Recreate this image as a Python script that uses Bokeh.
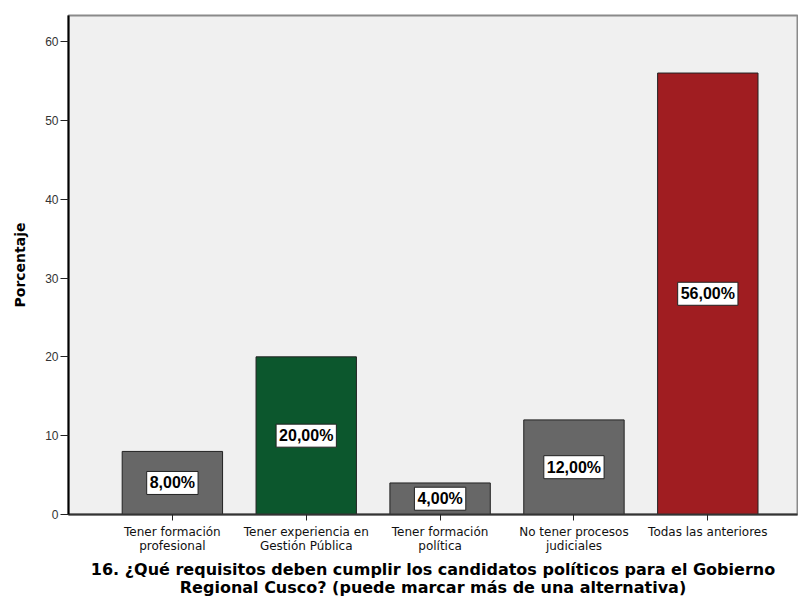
from bokeh.plotting import figure
from bokeh.models import ColumnDataSource, Range1d, FixedTicker
from bokeh.core.properties import value
from bokeh.embed import file_html
from bokeh.resources import INLINE

categories = ["Tener formación\nprofesional", "Tener experiencia en\nGestión Pública",
              "Tener formación\npolítica", "No tener procesos\njudiciales", "Todas las anteriores"]
values = [8.0, 20.0, 4.0, 12.0, 56.0]
labels = ["8,00%", "20,00%", "4,00%", "12,00%", "56,00%"]
colors = ["#676767", "#0c572d", "#676767", "#676767", "#a01d21"]
y_ticks = [0, 10, 20, 30, 40, 50, 60]
title_text = ("16. ¿Qué requisitos deben cumplir los candidatos políticos para el Gobierno\n"
              "Regional Cusco? (puede marcar más de una alternativa)")

xs = list(range(len(categories)))
src = ColumnDataSource(dict(x=xs, top=values, mid=[v / 2 for v in values], lab=labels, color=colors))

p = figure(width=798, height=599, output_backend="svg", toolbar_location=None,
           x_range=Range1d(-0.776, 4.67), y_range=Range1d(0, 63.3),
           min_border_left=68, min_border_right=1, min_border_top=15, min_border_bottom=85)
p.background_fill_color = "#f0f0f0"
p.border_fill_color = "white"
p.outline_line_color = "#8a8a8a"
p.outline_line_width = 2
p.grid.visible = False

p.vbar(x="x", top="top", bottom=0, width=0.75, fill_color="color", line_color="#222222",
       line_width=1, source=src)

p.text(x="x", y="mid", text="lab", source=src, text_align="center", text_baseline="middle",
       text_font=value("Liberation Sans"), text_font_style="bold", text_font_size="16px",
       text_color="black", background_fill_color="white", border_line_color="#222222",
       border_line_width=1, padding=3)

ya = p.yaxis[0]
ya.ticker = FixedTicker(ticks=y_ticks)
ya.axis_label = "Porcentaje"
ya.axis_label_text_font = "DejaVu Sans"
ya.axis_label_text_font_style = "bold"
ya.axis_label_text_font_size = "14px"
ya.axis_label_text_color = "black"
ya.axis_label_standoff = 14
ya.major_label_text_font = "Liberation Sans"
ya.major_label_text_font_size = "12px"
ya.major_label_text_color = "#333333"
ya.axis_line_color = "black"
ya.axis_line_width = 2
ya.major_tick_line_color = "#222222"
ya.major_tick_in = 0
ya.major_tick_out = 8
ya.minor_tick_line_color = None
ya.major_label_standoff = 2

xa = p.xaxis[0]
xa.ticker = FixedTicker(ticks=xs)
xa.major_label_overrides = {i: c for i, c in enumerate(categories)}
xa.major_label_text_font = "DejaVu Sans"
xa.major_label_text_font_size = "12px"
xa.major_label_text_color = "#111111"
xa.major_label_text_line_height = 1.0
xa.axis_line_color = "#333333"
xa.axis_line_width = 2
xa.major_tick_in = 0
xa.major_tick_out = 6
xa.major_tick_line_color = "#222222"
xa.minor_tick_line_color = None
xa.major_label_standoff = 4
xa.axis_label = title_text
xa.axis_label_text_font = "DejaVu Sans"
xa.axis_label_text_font_style = "bold"
xa.axis_label_text_font_size = "16px"
xa.axis_label_text_color = "black"
xa.axis_label_text_line_height = 0.95
xa.axis_label_standoff = 4

open("out.html", "w").write(file_html(p, INLINE))
